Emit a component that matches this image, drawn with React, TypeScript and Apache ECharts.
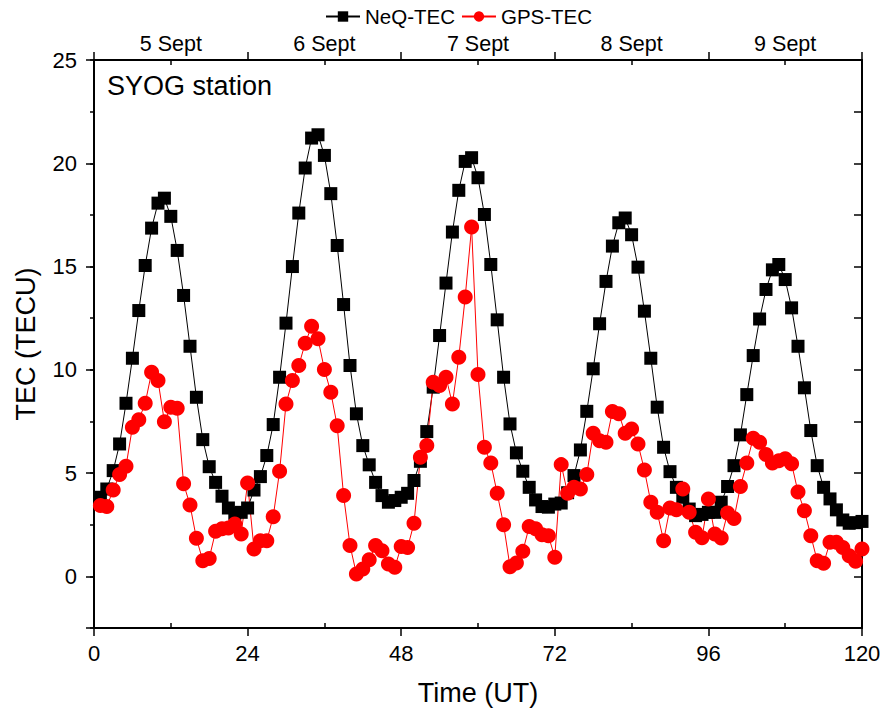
import React, { useEffect, useRef } from "react";
import * as echarts from "echarts";

const hours: number[] = Array.from({ length: 120 }, (_, i) => i + 1);

const neqTec: number[] = [
  3.83, 4.23, 5.12, 6.41, 8.38, 10.56, 12.87, 15.05, 16.86, 18.07, 18.31, 17.43,
  15.78, 13.6, 11.14, 8.67, 6.62, 5.31, 4.55, 3.88, 3.31, 3.05, 3.1, 3.31,
  4.18, 4.83, 5.85, 7.35, 9.64, 12.26, 15.0, 17.59, 19.77, 21.22, 21.38, 20.38,
  18.53, 16.02, 13.16, 10.21, 7.87, 6.33, 5.4, 4.55, 3.91, 3.59, 3.67, 3.83,
  4.02, 4.64, 5.57, 7.01, 9.16, 11.66, 14.2, 16.67, 18.69, 20.09, 20.27, 19.3,
  17.52, 15.1, 12.42, 9.64, 7.38, 5.98, 5.09, 4.31, 3.7, 3.38, 3.35, 3.5,
  3.55, 4.05, 4.88, 6.12, 7.99, 10.05, 12.23, 14.28, 15.99, 17.12, 17.35, 16.54,
  14.97, 12.84, 10.56, 8.19, 6.25, 5.07, 4.31, 3.83, 3.26, 2.94, 3.0, 3.1,
  3.1, 3.59, 4.35, 5.36, 6.85, 8.8, 10.69, 12.46, 13.89, 14.84, 15.1, 14.37,
  13.0, 11.14, 9.13, 7.06, 5.36, 4.31, 3.75, 3.22, 2.73, 2.57, 2.6, 2.66,
];

const gpsTec: number[] = [
  3.43, 3.38, 4.18, 4.93, 5.33, 7.22, 7.58, 8.38, 9.88, 9.48, 7.49, 8.19,
  8.14, 4.48, 3.46, 1.84, 0.76, 0.87, 2.18, 2.3, 2.34, 2.54, 2.05, 4.52,
  1.33, 1.73, 1.73, 2.89, 5.09, 8.35, 9.48, 10.21, 11.29, 12.11, 11.5, 10.02,
  8.91, 7.29, 3.91, 1.5, 0.12, 0.36, 0.81, 1.49, 1.24, 0.6, 0.44, 1.45,
  1.4, 2.57, 5.77, 6.33, 9.4, 9.24, 9.64, 8.35, 10.61, 13.52, 16.91, 9.77,
  6.25, 5.49, 4.02, 2.5, 0.47, 0.65, 1.21, 2.41, 2.3, 2.02, 1.97, 0.92,
  5.41, 4.02, 4.31, 4.23, 4.93, 6.93, 6.57, 6.49, 7.98, 7.87, 6.93, 7.14,
  6.41, 5.15, 3.59, 3.1, 1.73, 3.31, 3.22, 4.23, 3.1, 2.14, 1.87, 3.75,
  2.05, 1.86, 3.07, 2.8, 4.35, 5.49, 6.69, 6.49, 5.9, 5.49, 5.6, 5.69,
  5.45, 4.08, 3.18, 1.97, 0.76, 0.63, 1.65, 1.65, 1.4, 1.0, 0.73, 1.33,
];

const dayLabels: string[] = ["5 Sept", "6 Sept", "7 Sept", "8 Sept", "9 Sept"];

const FONT = "'Liberation Sans', Arial, sans-serif";

export default function App() {
  const ref = useRef<HTMLDivElement>(null);
  useEffect(() => {
    if (!ref.current) return;
    const chart = echarts.init(ref.current, undefined, { renderer: "svg" });
    const axisLine = { show: true, onZero: false, lineStyle: { color: "#000", width: 2 } };
    const tickStyle = { color: "#000", width: 1.5 };
    chart.setOption({
      animation: false,
      backgroundColor: "#fff",
      textStyle: { fontFamily: FONT, color: "#000" },
      legend: {
        top: 1,
        left: 320,
        itemWidth: 34,
        itemHeight: 13,
        itemGap: 6,
        textStyle: { fontFamily: FONT, fontSize: 20.5, color: "#000" },
        data: ["NeQ-TEC", "GPS-TEC"],
      },
      grid: { left: 94, right: 22, top: 60, bottom: 90, containLabel: false },
      graphic: [
        {
          type: "text",
          left: 107,
          top: 72,
          style: { text: "SYOG station", font: `27px ${FONT}`, fill: "#000" },
        },
      ],
      xAxis: [
        {
          type: "value",
          position: "bottom",
          min: 0,
          max: 120,
          interval: 24,
          axisLine,
          axisTick: { show: true, inside: false, length: 8, lineStyle: tickStyle },
          axisLabel: { fontSize: 22, color: "#000", margin: 14, fontFamily: FONT },
          splitLine: { show: false },
          name: "Time (UT)",
          nameLocation: "middle",
          nameGap: 51,
          nameTextStyle: { fontSize: 27, color: "#000", fontFamily: FONT },
        },
        {
          type: "category",
          position: "bottom",
          data: dayLabels,
          boundaryGap: true,
          axisLine: { show: false, onZero: false },
          axisTick: { show: true, inside: true, alignWithLabel: true, length: 5, lineStyle: tickStyle },
          axisLabel: { show: false },
          splitLine: { show: false },
        },
        {
          type: "value",
          position: "top",
          min: 0,
          max: 120,
          interval: 24,
          axisLine,
          axisTick: { show: true, inside: false, length: 8, lineStyle: tickStyle },
          axisLabel: { show: false },
          splitLine: { show: false },
        },
        {
          type: "category",
          position: "top",
          data: dayLabels,
          boundaryGap: true,
          axisLine: { show: false, onZero: false },
          axisTick: { show: true, inside: true, alignWithLabel: true, length: 5, lineStyle: tickStyle },
          axisLabel: { show: true, interval: 0, fontSize: 21.5, color: "#000", margin: 5, fontFamily: FONT },
          splitLine: { show: false },
        },
      ],
      yAxis: [
        {
          type: "value",
          position: "left",
          min: -2.5,
          max: 25,
          interval: 2.5,
          axisLine,
          axisTick: { show: true, inside: false, length: 4, lineStyle: tickStyle },
          axisLabel: { show: false },
          splitLine: { show: false },
        },
        {
          type: "value",
          position: "left",
          min: -25,
          max: 2.5,
          inverse: true,
          interval: 5,
          axisLine: { show: false, onZero: false },
          axisTick: { show: true, inside: false, length: 8, lineStyle: tickStyle },
          axisLabel: {
            fontSize: 22,
            color: "#000",
            margin: 17,
            fontFamily: FONT,
            formatter: (v: number) => (v > 0 ? "" : String(Math.abs(v))),
          },
          splitLine: { show: false },
          name: "TEC (TECU)",
          nameLocation: "middle",
          nameGap: 55,
          nameTextStyle: { fontSize: 27, color: "#000", fontFamily: FONT },
        },
        {
          type: "value",
          position: "right",
          min: -2.5,
          max: 25,
          interval: 2.5,
          axisLine,
          axisTick: { show: true, inside: true, length: 8, lineStyle: tickStyle },
          axisLabel: { show: false },
          splitLine: { show: false },
        },
      ],
      series: [
        {
          name: "NeQ-TEC",
          type: "line",
          xAxisIndex: 0,
          yAxisIndex: 0,
          data: hours.map((h, i) => [h, neqTec[i]]),
          symbol: "rect",
          symbolSize: 13,
          showAllSymbol: true,
          itemStyle: { color: "#000" },
          lineStyle: { color: "#000", width: 1 },
          clip: false,
        },
        {
          name: "GPS-TEC",
          type: "line",
          xAxisIndex: 0,
          yAxisIndex: 0,
          data: hours.map((h, i) => [h, gpsTec[i]]),
          symbol: "circle",
          symbolSize: 15,
          showAllSymbol: true,
          itemStyle: { color: "#ff0000" },
          lineStyle: { color: "#ff0000", width: 1 },
          clip: false,
        },
      ],
    });
    return () => chart.dispose();
  }, []);
  return (
    <div
      ref={ref}
      style={{ position: "fixed", left: 0, top: 0, width: 884, height: 718, overflow: "hidden" }}
    />
  );
}
